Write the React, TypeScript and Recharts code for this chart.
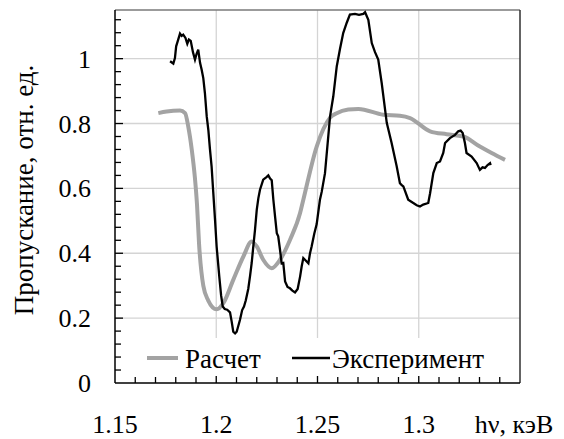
import { LineChart, Line, XAxis, YAxis, CartesianGrid, Legend, ReferenceLine } from 'recharts';

// Расчет (calculated) curve
const calcX = [
  1.1714, 1.1755, 1.1821, 1.1846, 1.1862, 1.1879, 1.1895, 1.1905, 1.1915, 1.1936, 1.196, 1.2002,
  1.2035, 1.2084, 1.2134, 1.2175, 1.22, 1.2232, 1.2274, 1.2315, 1.2364, 1.2414, 1.243, 1.2496,
  1.2562, 1.2595, 1.2652, 1.2702, 1.2825, 1.2907, 1.2957, 1.3056, 1.3138, 1.322, 1.3302, 1.336,
  1.3426,
];
const calcY = [
  0.832, 0.837, 0.84, 0.832, 0.79, 0.72, 0.63, 0.55, 0.43, 0.3, 0.255, 0.227,
  0.246, 0.318, 0.39, 0.436, 0.421, 0.38, 0.354, 0.38, 0.441, 0.524, 0.565, 0.729,
  0.818, 0.832, 0.843, 0.845, 0.827, 0.824, 0.817, 0.776, 0.767, 0.76, 0.729, 0.709,
  0.688,
];

// Эксперимент (measured) curve
const expX = [
  1.1772, 1.1788, 1.1796, 1.1802, 1.1808, 1.1821, 1.1829, 1.1837, 1.1848, 1.1857, 1.1865, 1.1874,
  1.1885, 1.1895, 1.1903, 1.1911, 1.192, 1.1928, 1.1936, 1.1944, 1.1953, 1.1961, 1.1969, 1.1977,
  1.1985, 1.1994, 1.2002, 1.2015, 1.2024, 1.2032, 1.2042, 1.2054, 1.2068, 1.2076, 1.2084, 1.2093,
  1.2101, 1.2117, 1.2128, 1.2137, 1.2146, 1.2158, 1.2167, 1.2175, 1.2183, 1.2191, 1.22, 1.2208,
  1.2216, 1.2232, 1.2248, 1.2257, 1.2266, 1.2274, 1.2282, 1.2291, 1.2299, 1.2306, 1.2315, 1.2323,
  1.2331, 1.234, 1.2352, 1.2364, 1.2376, 1.2389, 1.2402, 1.2414, 1.2422, 1.243, 1.2438, 1.2455,
  1.2463, 1.2471, 1.2484, 1.2496, 1.2512, 1.2521, 1.2537, 1.2562, 1.2578, 1.2595, 1.2611, 1.2627,
  1.2644, 1.266, 1.2685, 1.2705, 1.2726, 1.2735, 1.2751, 1.2768, 1.2784, 1.28, 1.2817, 1.2842,
  1.2866, 1.2891, 1.2907, 1.2916, 1.2924, 1.2948, 1.2973, 1.299, 1.3006, 1.3022, 1.3047, 1.3056,
  1.3072, 1.3089, 1.3105, 1.3121, 1.313, 1.3154, 1.3179, 1.3195, 1.3207, 1.3217, 1.3228, 1.3236,
  1.3261, 1.3286, 1.3302, 1.3315, 1.3327, 1.334, 1.3352, 1.3355,
];
const expY = [
  0.992, 0.985, 1.002, 1.038, 1.05, 1.077, 1.07, 1.074, 1.064, 1.046, 1.059, 1.055,
  1.02, 0.997, 1.015, 1.028, 0.987, 0.966, 0.94, 0.894, 0.822, 0.78, 0.72, 0.668,
  0.59, 0.503, 0.42, 0.328, 0.27, 0.236, 0.228, 0.226, 0.218, 0.19, 0.158, 0.153,
  0.158, 0.194, 0.225, 0.236, 0.255, 0.29, 0.33, 0.37, 0.421, 0.47, 0.534, 0.57,
  0.596, 0.627, 0.635, 0.64, 0.63, 0.625, 0.565, 0.51, 0.462, 0.452, 0.41, 0.369,
  0.37, 0.313, 0.296, 0.292, 0.285, 0.279, 0.29, 0.328, 0.36, 0.385, 0.38, 0.369,
  0.4, 0.421, 0.46, 0.49, 0.565, 0.59, 0.647, 0.822, 0.884, 0.976, 1.03, 1.079,
  1.11, 1.136, 1.138, 1.135, 1.138, 1.143, 1.12, 1.048, 1.02, 0.997, 0.925, 0.802,
  0.74, 0.668, 0.616, 0.61, 0.606, 0.565, 0.555, 0.548, 0.544, 0.55, 0.555, 0.585,
  0.647, 0.678, 0.683, 0.709, 0.74, 0.755, 0.765, 0.776, 0.778, 0.771, 0.74, 0.709,
  0.698, 0.678, 0.657, 0.665, 0.663, 0.672, 0.678, 0.672,
];

const xTicks = [
  1.15, 1.16, 1.17, 1.18, 1.19, 1.2, 1.21, 1.22, 1.23, 1.24, 1.25,
  1.26, 1.27, 1.28, 1.29, 1.3, 1.31, 1.32, 1.33, 1.34, 1.35,
];
const xLabelValues = [1.15, 1.2, 1.25, 1.3, 1.35];
const xLabels = ['1.15', '1.2', '1.25', '1.3', 'hν, кэВ'];
const xGrid = [1.2, 1.25, 1.3];

const yTicks = [
  0, 0.04, 0.08, 0.12, 0.16, 0.2, 0.24, 0.28, 0.32, 0.36, 0.4, 0.44, 0.48, 0.52, 0.56,
  0.6, 0.64, 0.68, 0.72, 0.76, 0.8, 0.84, 0.88, 0.92, 0.96, 1, 1.04, 1.08, 1.12,
];
const yLabelValues = [0, 0.2, 0.4, 0.6, 0.8, 1];
const yLabels = ['0', '0.2', '0.4', '0.6', '0.8', '1'];
const yGrid = [0.2, 0.4, 0.6, 0.8, 1];

const FONT = 'Liberation Serif';
const TICK_FS = 26;
const LEGEND_FS = 27;
const TITLE_FS = 27;

const calcData = calcX.map((x, i) => ({ x, y: calcY[i] }));
const expData = expX.map((x, i) => ({ x, y: expY[i] }));

const findIdx = (arr: number[], v: number) => arr.findIndex((t) => Math.abs(t - v) < 1e-6);

function XTick(props: any) {
  const { x, y, payload } = props;
  const v = payload.value;
  const idx = findIdx(xLabelValues, v);
  const major = idx >= 0;
  const showTick = v > 1.155 && v < 1.345;
  return (
    <g>
      {showTick && (
        <line x1={x} x2={x} y1={y} y2={y - (major ? 9 : 6)} stroke="#000" strokeWidth={1.3} />
      )}
      {major && (
        <text
          x={x + (idx === 4 ? -6 : 0)}
          y={y + 50}
          textAnchor="middle"
          fontFamily={FONT}
          fontSize={TICK_FS}
          fill="#000"
        >
          {xLabels[idx]}
        </text>
      )}
    </g>
  );
}

function YTick(props: any) {
  const { x, y, payload } = props;
  const v = payload.value;
  const idx = findIdx(yLabelValues, v);
  const major = idx >= 0;
  return (
    <g>
      {v > 0.001 && (
        <line x1={x} x2={x + (major ? 8 : 6)} y1={y} y2={y} stroke="#000" strokeWidth={1.3} />
      )}
      {major && (
        <text x={x - 24} y={y + 9} textAnchor="end" fontFamily={FONT} fontSize={TICK_FS} fill="#000">
          {yLabels[idx]}
        </text>
      )}
    </g>
  );
}

function LegendBox() {
  return (
    <svg width={365} height={38} style={{ display: 'block' }}>
      <line x1={12} x2={43} y1={20} y2={20} stroke="#a3a3a3" strokeWidth={4} />
      <text x={50} y={30} fontFamily={FONT} fontSize={LEGEND_FS} fill="#000">
        Расчет
      </text>
      <line x1={157} x2={195} y1={20} y2={20} stroke="#000" strokeWidth={2.3} />
      <text x={197} y={30} fontFamily={FONT} fontSize={LEGEND_FS} fill="#000">
        Эксперимент
      </text>
    </svg>
  );
}

export default function App() {
  return (
    <div style={{ position: 'absolute', left: 0, top: 0, background: '#fff' }}>
      <LineChart width={564} height={439} margin={{ top: 10, right: 44, bottom: 0, left: 0 }}>
        <CartesianGrid
          horizontalValues={yGrid}
          verticalValues={xGrid}
          stroke="#d4d4d4"
          strokeWidth={1.3}
        />
        <XAxis
          dataKey="x"
          type="number"
          domain={[1.15, 1.35]}
          ticks={xTicks}
          interval={0}
          height={56}
          tickSize={0}
          tickMargin={0}
          axisLine={{ stroke: '#000', strokeWidth: 1.5 }}
          tickLine={false}
          tick={(p: any) => <XTick {...p} />}
          allowDuplicatedCategory={false}
        />
        <YAxis
          type="number"
          domain={[0, 1.15]}
          ticks={yTicks}
          interval={0}
          width={115}
          tickSize={0}
          tickMargin={0}
          axisLine={{ stroke: '#000', strokeWidth: 1.5 }}
          tickLine={false}
          tick={(p: any) => <YTick {...p} />}
          label={() => (
            <text
              x={24}
              y={190}
              transform="rotate(-90 24 190)"
              textAnchor="middle"
              dominantBaseline="central"
              fontFamily={FONT}
              fontSize={TITLE_FS}
              fill="#000"
            >
              Пропускание, отн. ед.
            </text>
          )}
        />
        <ReferenceLine y={1.15} stroke="#7a7a7a" strokeWidth={1.5} />
        <ReferenceLine x={1.35} stroke="#303030" strokeWidth={1.5} />
        <Line
          data={calcData}
          dataKey="y"
          type="monotone"
          stroke="#a3a3a3"
          strokeWidth={4}
          dot={false}
          isAnimationActive={false}
        />
        <Line
          data={expData}
          dataKey="y"
          type="linear"
          stroke="#000"
          strokeWidth={2.3}
          dot={false}
          isAnimationActive={false}
        />
        <Legend
          layout="horizontal"
          verticalAlign="middle"
          align="center"
          wrapperStyle={{ left: 135, top: 338, width: 365, height: 38, background: '#fff' }}
          content={() => <LegendBox />}
        />
      </LineChart>
    </div>
  );
}
